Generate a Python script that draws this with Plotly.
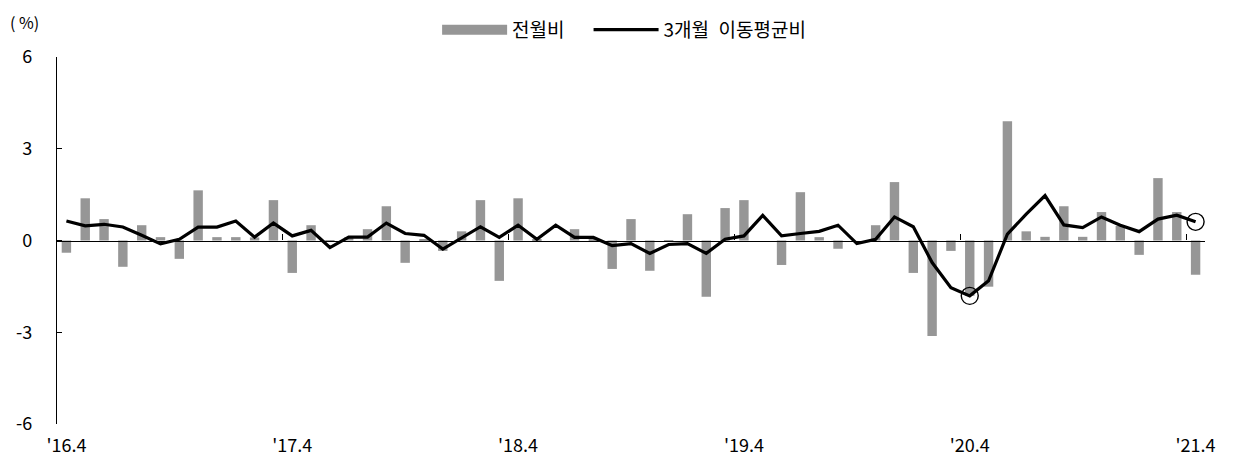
import plotly.graph_objects as go

# Monthly categories '16.4 ... '21.4
months = []
for yr in range(16, 22):
    for m in range(1, 13):
        if (yr == 16 and m < 4) or (yr == 21 and m > 4):
            continue
        months.append("'%d.%d" % (yr, m))

tick_labels = ["'16.4", "'17.4", "'18.4", "'19.4", "'20.4", "'21.4"]

mom = [-0.40, 1.38, 0.70, -0.86, 0.50, 0.11, -0.60, 1.64, 0.11, 0.11,
       0.10, 1.32, -1.06, 0.50, -0.05, 0.10, 0.37, 1.12, -0.73, 0.05,
       -0.34, 0.30, 1.32, -1.32, 1.38, 0.05, 0.00, 0.37, 0.05, -0.93,
       0.70, -0.99, -0.05, 0.86, -1.84, 1.06, 1.32, 0.00, -0.80, 1.58,
       0.11, -0.27, 0.00, 0.50, 1.91, -1.06, -3.12, -0.34, -1.81, -1.51,
       3.90, 0.30, 0.12, 1.12, 0.12, 0.93, 0.48, -0.47, 2.04, 0.93,
       -1.12]

ma3 = [0.64, 0.48, 0.53, 0.44, 0.17, -0.11, 0.04, 0.44, 0.44, 0.64,
       0.11, 0.57, 0.15, 0.33, -0.23, 0.11, 0.11, 0.57, 0.23, 0.17,
       -0.28, 0.10, 0.45, 0.10, 0.50, 0.04, 0.50, 0.10, 0.10, -0.17,
       -0.10, -0.42, -0.13, -0.10, -0.42, 0.04, 0.15, 0.82, 0.15, 0.23,
       0.30, 0.50, -0.10, 0.04, 0.77, 0.45, -0.72, -1.54, -1.81, -1.32,
       0.21, 0.86, 1.47, 0.51, 0.42, 0.77, 0.50, 0.29, 0.70, 0.83,
       0.61]

highlight_months = ["'20.4", "'21.4"]

FONT = "Noto Sans CJK KR"
BAR_COLOR = "#969696"

fig = go.Figure()
fig.add_trace(go.Bar(
    x=months, y=mom, name="전월비", marker_color=BAR_COLOR,
    marker_line_width=0, width=0.5, xaxis="x", yaxis="y", showlegend=False,
))
# legend swatch for the bars (wide grey band like the original)
fig.add_trace(go.Scatter(
    x=[None], y=[None], name="전월비\u2002\u2002", mode="lines",
    line=dict(color=BAR_COLOR, width=16), xaxis="x", yaxis="y",
))
fig.add_trace(go.Scatter(
    x=months, y=ma3, name="3개월\u2002이동평균비", mode="lines",
    line=dict(color="black", width=3.2), xaxis="x2", yaxis="y",
))
hl_y = [ma3[months.index(m)] for m in highlight_months]
fig.add_trace(go.Scatter(
    x=highlight_months, y=hl_y, mode="markers", showlegend=False,
    marker=dict(symbol="circle-open", size=17, color="black",
                line=dict(width=1.4, color="black")),
    xaxis="x2", yaxis="y",
))

rng = [-0.5, len(months) - 0.5]
fig.update_layout(
    width=1229, height=461,
    margin=dict(l=49, r=32, t=49, b=45, autoexpand=False),
    plot_bgcolor="white", paper_bgcolor="white",
    font=dict(family=FONT, size=18, color="black"),
    bargap=0.5,
    showlegend=True,
    legend=dict(orientation="h", x=0.494, xanchor="center",
                y=1.074, yanchor="middle", itemwidth=65,
                font=dict(family=FONT, size=19, color="black"),
                traceorder="normal", bgcolor="rgba(0,0,0,0)"),
    xaxis=dict(type="category", categoryorder="array", categoryarray=months,
               range=rng, showline=False, ticks="", showgrid=False,
               zeroline=False, tickmode="array", tickvals=tick_labels,
               ticktext=tick_labels, ticklabelstandoff=9,
               tickfont=dict(family=FONT, size=18)),
    xaxis2=dict(type="category", categoryorder="array", categoryarray=months,
                range=rng, overlaying="x", anchor="free", position=0.5,
                showline=True, linecolor="black", linewidth=1.3,
                ticks="inside", ticklen=6, tickwidth=1.3, tickcolor="black",
                tickson="boundaries", tickmode="linear", tick0=0, dtick=12,
                showticklabels=False, showgrid=False, zeroline=False),
    yaxis=dict(range=[-6, 6], tickmode="array", tickvals=[-6, -3, 0, 3, 6],
               ticktext=["-6", "-3", "0", "3", "6"],
               showline=True, linecolor="black", linewidth=1.3,
               ticks="inside", ticklen=5, tickwidth=1.3, tickcolor="black",
               showgrid=False, zeroline=False, ticklabelstandoff=20,
               tickfont=dict(family=FONT, size=18)),
    annotations=[dict(text="( %)", xref="paper", yref="paper",
                      x=-0.028, y=1.095, xanchor="center", yanchor="middle",
                      showarrow=False, font=dict(family=FONT, size=16))],
)

fig.write_html("out.html")
